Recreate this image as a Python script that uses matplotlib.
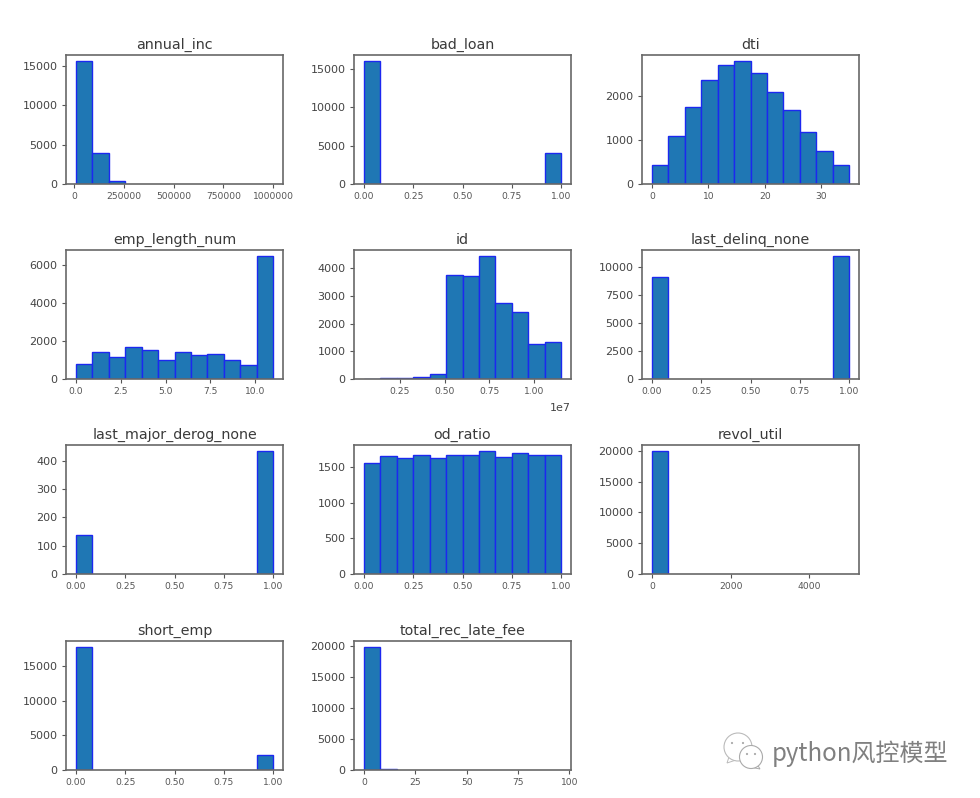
import numpy as np
import matplotlib
matplotlib.use("Agg")
import matplotlib.pyplot as plt
from matplotlib.patches import Circle, Polygon

titles = ["annual_inc", "bad_loan", "dti", "emp_length_num", "id", "last_delinq_none",
          "last_major_derog_none", "od_ratio", "revol_util", "short_emp", "total_rec_late_fee"]
annual_inc = [15600, 3900, 350, 0, 0, 0, 0, 0, 0, 0, 0, 0]
bad_loan = [16000, 0, 0, 0, 0, 0, 0, 0, 0, 0, 0, 4000]
dti = [430, 1090, 1750, 2370, 2700, 2790, 2520, 2100, 1690, 1190, 760, 430]
emp_length_num = [800, 1450, 1180, 1700, 1530, 1000, 1400, 1270, 1320, 1000, 750, 6480]
id_ = [15, 20, 30, 70, 170, 3740, 3700, 4430, 2730, 2430, 1260, 1340]
last_delinq_none = [9050, 0, 0, 0, 0, 0, 0, 0, 0, 0, 0, 10950]
last_major_derog_none = [138, 0, 0, 0, 0, 0, 0, 0, 0, 0, 0, 433]
od_ratio = [1570, 1660, 1630, 1680, 1640, 1680, 1670, 1730, 1650, 1710, 1670, 1680]
revol_util = [19950, 0, 0, 0, 0, 0, 0, 0, 0, 0, 0, 0]
short_emp = [17800, 0, 0, 0, 0, 0, 0, 0, 0, 0, 0, 2200]
total_rec_late_fee = [19800, 180, 0, 0, 0, 0, 0, 0, 0, 0, 0, 0]
series = [annual_inc, bad_loan, dti, emp_length_num, id_, last_delinq_none,
          last_major_derog_none, od_ratio, revol_util, short_emp, total_rec_late_fee]
ranges = [(8000, 1000000), (0, 1), (0, 34.9), (0, 11), (520000, 11480000), (0, 1),
          (0, 1), (0, 1), (0, 5010), (0, 1), (0, 96)]
xticks = [[0, 250000, 500000, 750000, 1000000],
          [0, .25, .5, .75, 1], [0, 10, 20, 30], [0, 2.5, 5, 7.5, 10],
          [2500000, 5000000, 7500000, 10000000], [0, .25, .5, .75, 1],
          [0, .25, .5, .75, 1], [0, .25, .5, .75, 1], [0, 2000, 4000],
          [0, .25, .5, .75, 1], [0, 25, 50, 75, 100]]
xlabels = [["0", "250000", "500000", "750000", "1000000"],
           ["0.00", "0.25", "0.50", "0.75", "1.00"], ["0", "10", "20", "30"],
           ["0.0", "2.5", "5.0", "7.5", "10.0"], ["0.25", "0.50", "0.75", "1.00"],
           ["0.00", "0.25", "0.50", "0.75", "1.00"], ["0.00", "0.25", "0.50", "0.75", "1.00"],
           ["0.00", "0.25", "0.50", "0.75", "1.00"], ["0", "2000", "4000"],
           ["0.00", "0.25", "0.50", "0.75", "1.00"], ["0", "25", "50", "75", "100"]]
yticks = [[0, 5000, 10000, 15000], [0, 5000, 10000, 15000], [0, 1000, 2000],
          [0, 2000, 4000, 6000], [0, 1000, 2000, 3000, 4000], [0, 2500, 5000, 7500, 10000],
          [0, 100, 200, 300, 400], [0, 500, 1000, 1500], [0, 5000, 10000, 15000, 20000],
          [0, 5000, 10000, 15000], [0, 5000, 10000, 15000, 20000]]

W, H = 980, 798
fig = plt.figure(figsize=(W / 100, H / 100), dpi=100)
lefts = [66, 354, 642]
tops = [55, 250, 445, 641]
aw, ah = 217, 129
TXT = "#444444"
for i, (t, c, r) in enumerate(zip(titles, series, ranges)):
    row, col = divmod(i, 3)
    ax = fig.add_axes([lefts[col] / W, 1 - (tops[row] + ah) / H, aw / W, ah / H])
    edges = np.linspace(r[0], r[1], len(c) + 1)
    heights = np.asarray(c)
    keep = heights > 0
    ax.bar(edges[:-1][keep], heights[keep], width=np.diff(edges)[keep], align="edge",
           color="#1f77b4", edgecolor="#1c28f0", linewidth=1.0)
    ax.set_xlim(r[0] - (r[1] - r[0]) * .05, r[1] + (r[1] - r[0]) * .05)
    ax.set_title(t, fontsize=10.3, color="#3a3a3a", pad=4.5)
    ax.set_xticks(xticks[i], xlabels[i])
    ax.set_yticks(yticks[i])
    ax.tick_params(axis="x", labelsize=6.6, labelcolor="#555555", length=3, color="#555555", pad=3)
    ax.tick_params(axis="y", labelsize=8, labelcolor=TXT, length=3, color="#555555", pad=3)
    for s in ax.spines.values():
        s.set_color("#686868")
        s.set_linewidth(1.2)
    if t == "id":
        ax.text(1.0, -0.225, "1e7", transform=ax.transAxes, ha="right", va="center",
                fontsize=8, color=TXT)

# watermark
ov = fig.add_axes([0, 0, 1, 1], facecolor="none")
ov.set_xlim(0, W)
ov.set_ylim(H, 0)
ov.axis("off")
ov.add_patch(Polygon([[729, 757], [727, 763], [736, 760]], fc="white", ec="#bbbbbb", lw=0.7))
ov.add_patch(Circle((738, 747), 14, fc="white", ec="#bbbbbb", lw=0.8))
ov.add_patch(Polygon([[757, 764], [760, 769], [750, 767]], fc="white", ec="#aaaaaa", lw=0.7))
ov.add_patch(Circle((751, 757), 11.5, fc="white", ec="#aaaaaa", lw=0.8))
for x, y in [(732, 743), (743, 743), (747, 754), (755, 754)]:
    ov.add_patch(Circle((x, y), 1.1, fc="#aaaaaa", ec="none"))
ov.text(772, 754, "python风控模型", fontsize=17.3, color="#808080", va="center", ha="left",
        family=["Noto Sans CJK SC", "DejaVu Sans"])

fig.savefig("out.png", dpi=100)
